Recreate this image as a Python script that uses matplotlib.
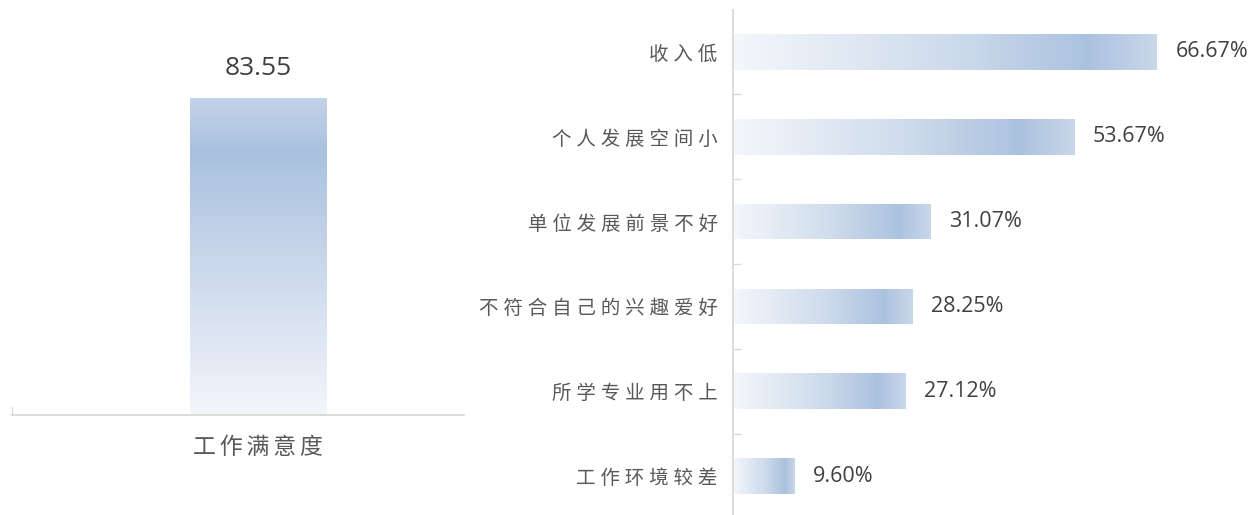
import matplotlib.pyplot as plt
import numpy as np
from matplotlib.colors import LinearSegmentedColormap

plt.rcParams['font.family'] = ['Noto Sans CJK SC', 'DejaVu Sans']

# data
score_label = ['工作满意度']
score_value = [83.55]

reasons = ['收入低', '个人发展空间小', '单位发展前景不好',
           '不符合自己的兴趣爱好', '所学专业用不上', '工作环境较差']
reason_pct = [66.67, 53.67, 31.07, 28.25, 27.12, 9.60]

text_grey = '#595959'
axis_grey = '#d9d9d9'
num_font = ['Open Sans', 'DejaVu Sans']


def spaced(s, gap='\u2005'):
    # the original labels are set with wide letter spacing
    return gap.join(s)


# gradients (position, colour)
vcmap = LinearSegmentedColormap.from_list('v', [
    (0.0, '#f3f6fb'), (0.5, '#c8d6ea'), (0.83, '#a9c1df'), (1.0, '#c3d3e8')])
hcmap = LinearSegmentedColormap.from_list('h', [
    (0.0, '#f4f7fb'), (0.5, '#cfdcec'), (0.84, '#abc2df'), (1.0, '#c9d7ea')])

W, H = 1257, 515
fig = plt.figure(figsize=(W / 100, H / 100), dpi=100)

# ---- left: single vertical bar
axl = fig.add_axes([12 / W, 100 / H, 452 / W, 379 / H])
bars = axl.bar([0], score_value, width=0.301, color='none', edgecolor='none')
grad_v = np.linspace(0, 1, 256).reshape(-1, 1)
for b in bars:
    x0, y0 = b.get_x(), b.get_y()
    im = axl.imshow(grad_v, cmap=vcmap, origin='lower', aspect='auto',
                    extent=[x0, x0 + b.get_width(), y0, y0 + b.get_height()],
                    zorder=2)
    im.set_clip_path(b)
    axl.annotate('%.2f' % b.get_height(),
                 (x0 + b.get_width() / 2, b.get_height()),
                 xytext=(0, 12.5), textcoords='offset points',
                 ha='center', va='bottom', fontsize=19, color='#404040',
                 family=num_font)
axl.set_xlim(-0.544, 0.456)
axl.set_ylim(0, 100)
axl.set_xticks([0])
axl.set_xticklabels([spaced(s, '\u2006') for s in score_label],
                    fontsize=16.5, color=text_grey)
axl.tick_params(axis='x', length=0, pad=15)
axl.set_yticks([])
for s in ['top', 'right']:
    axl.spines[s].set_visible(False)
axl.spines['bottom'].set_color(axis_grey)
axl.spines['bottom'].set_linewidth(1.3)
axl.spines['left'].set_color(axis_grey)
axl.spines['left'].set_bounds(0, 2)
axl.patch.set_alpha(0)

# ---- right: horizontal bars
axr = fig.add_axes([733 / W, -3.5 / H, 524 / W, 509 / H])
y = np.arange(len(reasons))
hb = axr.barh(y, reason_pct, height=0.42, color='none', edgecolor='none')
grad_h = np.linspace(0, 1, 256).reshape(1, -1)
for b, v in zip(hb, reason_pct):
    x0, y0 = b.get_x(), b.get_y()
    im = axr.imshow(grad_h, cmap=hcmap, aspect='auto',
                    extent=[x0, x0 + b.get_width(), y0 + b.get_height(), y0],
                    zorder=2)
    im.set_clip_path(b)
    axr.annotate('%.2f%%' % v, (v, y0 + b.get_height() / 2),
                 xytext=(13.5, 0), textcoords='offset points',
                 ha='left', va='center', fontsize=15.5, color='#404040',
                 family=num_font)
axr.set_xlim(0, 82.4)
axr.set_ylim(len(reasons) - 0.5, -0.5)
axr.set_yticks(y)
axr.set_yticklabels([spaced(s) for s in reasons], fontsize=14,
                    color=text_grey)
axr.tick_params(axis='y', which='major', length=0, pad=11)
axr.set_yticks(np.arange(0.5, len(reasons) - 1, 1), minor=True)
axr.tick_params(axis='y', which='minor', length=6, direction='in',
                color=axis_grey, width=1)
axr.set_xticks([])
for s in ['top', 'right', 'bottom']:
    axr.spines[s].set_visible(False)
axr.spines['left'].set_color(axis_grey)
axr.spines['left'].set_linewidth(1.3)
axr.patch.set_alpha(0)

fig.savefig('out.png', dpi=100)
